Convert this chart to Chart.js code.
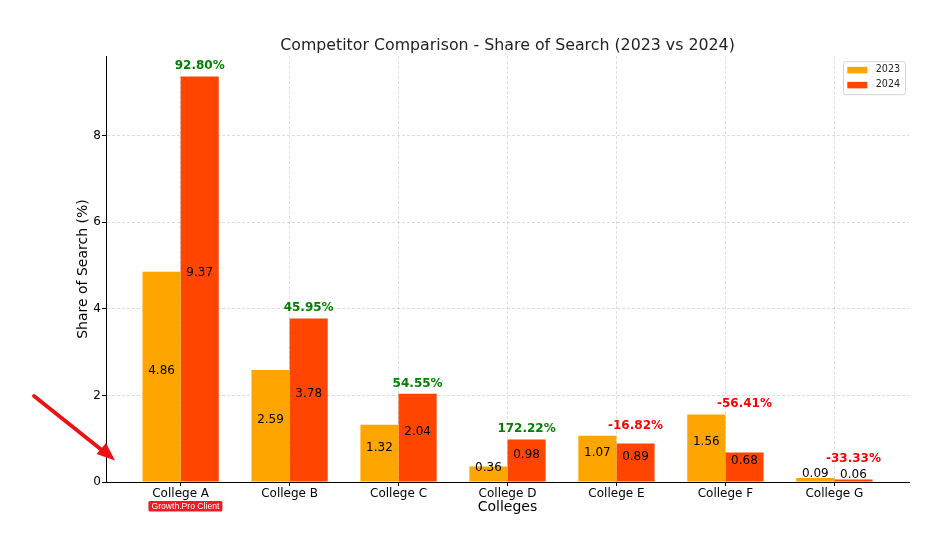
<!DOCTYPE html>
<html>
<head>
<meta charset="utf-8">
<script src="https://cdn.jsdelivr.net/npm/chart.js@4.4.0/dist/chart.umd.min.js"></script>
<style>
  html, body { margin: 0; padding: 0; background: #fff; }
  #wrap { width: 947px; height: 545px; }
</style>
</head>
<body>
<div id="wrap"><canvas id="myChart" width="947" height="545"></canvas></div>
<script>
// data
var categories = ['College A', 'College B', 'College C', 'College D', 'College E', 'College F', 'College G'];
var share2023 = [4.86, 2.59, 1.32, 0.36, 1.07, 1.56, 0.09];
var share2024 = [9.37, 3.78, 2.04, 0.98, 0.89, 0.68, 0.06];
var seriesNames = ['2023', '2024'];
var yTicks = [0, 2, 4, 6, 8];

var FONT = "'DejaVu Sans', sans-serif";
var colors = ['#FFA500', '#FF4500'];

function points(values) {
    return values.map(function (v, i) { return { x: i, y: v }; });
}

// value labels in the middle of each bar + % change above each group
var barLabels = {
    id: 'barLabels',
    afterDatasetsDraw: function (chart) {
        var ctx = chart.ctx;
        var y = chart.scales.y;
        ctx.save();
        ctx.textAlign = 'center';
        ctx.textBaseline = 'alphabetic';
        ctx.fillStyle = '#000';
        ctx.font = '12px ' + FONT;
        chart.data.datasets.forEach(function (ds, d) {
            chart.getDatasetMeta(d).data.forEach(function (bar, i) {
                var v = ds.data[i].y;
                ctx.fillText(v.toFixed(2), bar.x, y.getPixelForValue(v / 2) - 2.8);
            });
        });
        var bars24 = chart.getDatasetMeta(1).data;
        ctx.font = 'bold 12px ' + FONT;
        for (var i = 0; i < categories.length; i++) {
            var change = (share2024[i] - share2023[i]) / share2023[i] * 100;
            var hi = Math.max(share2023[i], share2024[i]);
            ctx.fillStyle = change >= 0 ? '#008000' : '#ff0000';
            ctx.fillText(change.toFixed(2) + '%', bars24[i].x, y.getPixelForValue(Math.max(hi + 0.1, 0.39)) - 2.8);
        }
        ctx.restore();
    }
};

// legend box in the upper right corner of the plot
var boxLegend = {
    id: 'boxLegend',
    afterDraw: function (chart) {
        var ctx = chart.ctx;
        var area = chart.chartArea;
        var w = 62, h = 33;
        var x0 = area.right - 4 - w, y0 = area.top + 5;
        ctx.save();
        ctx.beginPath();
        ctx.roundRect(x0 + 0.5, y0 + 0.5, w, h, 2);
        ctx.fillStyle = 'rgba(255,255,255,0.8)';
        ctx.fill();
        ctx.strokeStyle = '#d4d4d4';
        ctx.lineWidth = 1;
        ctx.stroke();
        ctx.font = '9.6px ' + FONT;
        ctx.textBaseline = 'middle';
        ctx.textAlign = 'left';
        chart.data.datasets.forEach(function (ds, d) {
            var cy = y0 + 8.7 + d * 15;
            ctx.fillStyle = ds.backgroundColor;
            ctx.fillRect(x0 + 4.3, cy - 3, 20, 6.5);
            ctx.fillStyle = '#222';
            ctx.fillText(ds.label, x0 + 32.7, cy);
        });
        ctx.restore();
    }
};

// red arrow + client badge under College A
var extras = {
    id: 'extras',
    afterDraw: function (chart) {
        var ctx = chart.ctx;
        ctx.save();
        ctx.strokeStyle = '#ee1111';
        ctx.fillStyle = '#ee1111';
        ctx.lineWidth = 3.8;
        ctx.lineCap = 'round';
        ctx.beginPath();
        ctx.moveTo(34, 396);
        ctx.lineTo(103, 451);
        ctx.stroke();
        ctx.beginPath();
        ctx.moveTo(115, 460.5);
        ctx.lineTo(96.5, 454);
        ctx.lineTo(106, 443);
        ctx.closePath();
        ctx.fill();

        var cx = chart.scales.x.getPixelForValue(0) + 4.8;
        ctx.beginPath();
        ctx.roundRect(cx - 37, 501, 74, 10.5, 1.5);
        ctx.fillStyle = '#ee1c25';
        ctx.fill();
        ctx.fillStyle = '#fff';
        ctx.font = '8.6px "Liberation Sans", Arial, sans-serif';
        ctx.textAlign = 'center';
        ctx.textBaseline = 'middle';
        ctx.fillText('Growth.Pro Client', cx, 506.2);
        ctx.restore();
    }
};

var gridStyle = {
    color: 'rgba(0,0,0,0.17)',
    lineWidth: 0.8,
    tickColor: '#000',
    tickLength: 4,
    tickWidth: 1,
    tickBorderDash: [],
    offset: false
};

var ctx = document.getElementById('myChart').getContext('2d');
var myChart = new Chart(ctx, {
    type: 'bar',
    data: {
        datasets: [{
            label: seriesNames[0],
            data: points(share2023),
            backgroundColor: colors[0],
            borderWidth: 0
        }, {
            label: seriesNames[1],
            data: points(share2024),
            backgroundColor: colors[1],
            borderWidth: 0
        }]
    },
    options: {
        responsive: false,
        animation: false,
        events: [],
        categoryPercentage: 0.7,
        barPercentage: 1.0,
        layout: { padding: { top: 0, right: 38, bottom: 0, left: 0 } },
        scales: {
            x: {
                type: 'linear',
                offset: false,
                min: -0.685,
                max: categories.length - 1 + 0.685,
                afterBuildTicks: function (scale) {
                    scale.ticks = categories.map(function (c, i) { return { value: i }; });
                },
                afterFit: function (scale) { scale.height = 63; },
                ticks: {
                    autoSkip: false,
                    maxRotation: 0,
                    padding: 1,
                    color: '#000',
                    font: { family: FONT, size: 12 },
                    callback: function (v) { return categories[v]; }
                },
                grid: gridStyle,
                border: { display: true, color: '#000', width: 1, dash: [3, 2] },
                title: {
                    display: true,
                    text: 'Colleges',
                    color: '#000',
                    font: { family: FONT, size: 14 },
                    padding: { top: 0, bottom: 29.6 }
                }
            },
            y: {
                min: 0,
                max: 9.37 * 1.05,
                afterBuildTicks: function (scale) {
                    scale.ticks = yTicks.map(function (v) { return { value: v }; });
                },
                afterFit: function (scale) { scale.width = 106; },
                ticks: {
                    padding: 1,
                    color: '#000',
                    font: { family: FONT, size: 12 }
                },
                grid: gridStyle,
                border: { display: true, color: '#000', width: 1, dash: [3, 2] },
                title: {
                    display: true,
                    text: 'Share of Search (%)',
                    color: '#000',
                    font: { family: FONT, size: 14 },
                    padding: { top: 74.6, bottom: 0 }
                }
            }
        },
        plugins: {
            legend: { display: false },
            tooltip: { enabled: false },
            title: {
                display: true,
                fullSize: false,
                text: 'Competitor Comparison - Share of Search (2023 vs 2024)',
                color: '#222',
                font: { family: FONT, size: 15.8, weight: 'normal' },
                padding: { top: 36.3, bottom: 0.9 }
            }
        }
    },
    plugins: [barLabels, boxLegend, extras]
});
</script>
</body>
</html>
